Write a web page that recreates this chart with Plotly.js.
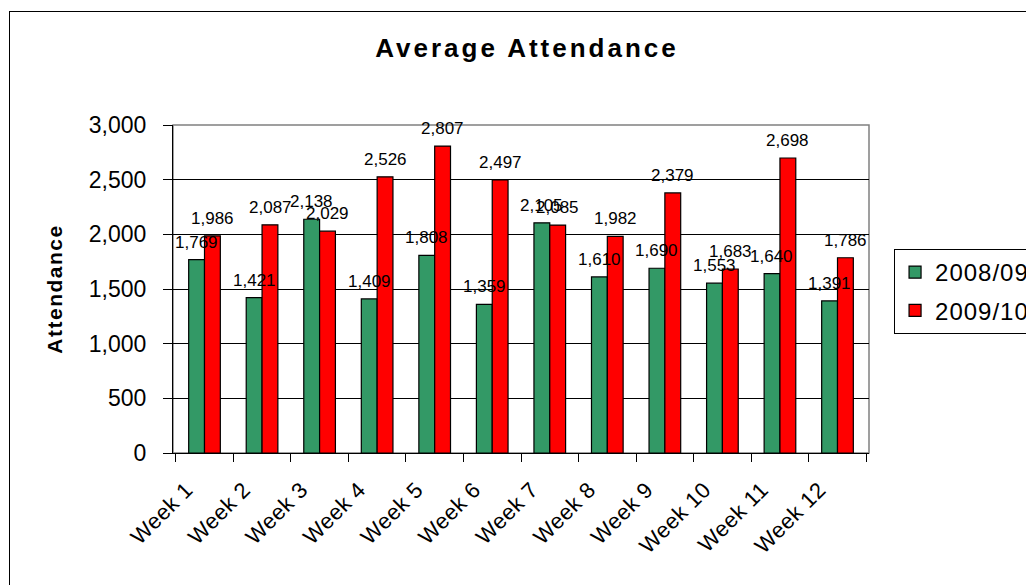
<!DOCTYPE html>
<html>
<head>
<meta charset="utf-8">
<script src="https://cdn.plot.ly/plotly-3.0.1.min.js"></script>
<style>
  html, body { margin: 0; padding: 0; background: #fff; overflow: hidden; width: 1026px; height: 585px; }
  #wrap { position: absolute; left: 0; top: 0; width: 1120px; height: 620px; }
  #frame { position: absolute; left: 9px; top: 11px; width: 1300px; height: 900px; border: 1px solid #000; pointer-events: none; }
  .gtitle { letter-spacing: 3px; }
  .ytitle { letter-spacing: 1.5px; }
  .legendtext { letter-spacing: 1px; }
  .xtick text { letter-spacing: 0.5px; }
</style>
</head>
<body>
<div id="wrap"></div>
<div id="frame"></div>
<script>
const weeks = ["Week 1","Week 2","Week 3","Week 4","Week 5","Week 6","Week 7","Week 8","Week 9","Week 10","Week 11","Week 12"];
const season0809 = [1769,1421,2138,1409,1808,1359,2105,1610,1690,1553,1640,1391];
const season0910 = [1986,2087,2029,2526,2807,2497,2085,1982,2379,1683,2698,1786];
const seriesNames = ["2008/09","2009/10"];
const yTicks = [0,500,1000,1500,2000,2500,3000];

const FONT = '"Liberation Sans", Arial, sans-serif';
const fmt = v => v.toLocaleString('en-US');

const traces = [
  {type:'bar', name:seriesNames[0], x:weeks, y:season0809, legendgroup:'a',
   marker:{color:'#339966', line:{color:'#000', width:1.2}}, hoverinfo:'skip'},
  {type:'bar', name:seriesNames[1], x:weeks, y:season0910, legendgroup:'b',
   marker:{color:'#FF0000', line:{color:'#000', width:1.2}}, hoverinfo:'skip'}
];

const annotations = [];
[season0809, season0910].forEach((vals, s) => {
  vals.forEach((v, i) => {
    annotations.push({x:weeks[i], y:v, xref:'x', yref:'y', text:fmt(v), showarrow:false,
      xshift: s === 0 ? -8 : 8, yshift: 6, yanchor:'bottom', xanchor:'center',
      font:{family:FONT, size:17, color:'#000'}});
  });
});

const layout = {
  width:1120, height:620,
  margin:{l:173, r:251, t:125, b:167},
  paper_bgcolor:'#fff', plot_bgcolor:'#fff',
  font:{family:FONT, color:'#000'},
  title:{text:'<b>Average Attendance</b>', font:{family:FONT, size:26, color:'#000'},
         xref:'paper', x:0.5086, xanchor:'center', yref:'container', y:1-48/620, yanchor:'middle'},
  barmode:'group', bargap:0.45, bargroupgap:0,
  showlegend:true,
  legend:{x:1.036, y:0.622, xanchor:'left', yanchor:'top', bordercolor:'#000', borderwidth:1,
          font:{family:FONT, size:24, color:'#000'}, traceorder:'grouped', tracegroupgap:4,
          bgcolor:'#fff'},
  xaxis:{type:'category', tickson:'boundaries', ticks:'outside', ticklen:8, tickcolor:'#000', tickwidth:1,
         showline:true, linecolor:'#000', linewidth:1, showgrid:false, tickangle:-45,
         ticklabelshift:-18, ticklabelstandoff:14,
         tickfont:{family:FONT, size:22, color:'#000'}, automargin:false, fixedrange:true},
  yaxis:{range:[0,3000], tickvals:yTicks, ticktext:yTicks.map(fmt), ticks:'outside', ticklen:9,
         tickcolor:'#000', tickwidth:1, showline:true, linecolor:'#000', linewidth:1,
         showgrid:true, gridcolor:'#000', gridwidth:1, zeroline:false,
         tickfont:{family:FONT, size:23, color:'#000'}, ticklabelstandoff:12,
         title:{text:'<b>Attendance</b>', font:{family:FONT, size:21, color:'#000'}, standoff:20},
         automargin:false, fixedrange:true},
  shapes:[{type:'rect', xref:'paper', yref:'paper', x0:0, x1:1, y0:0, y1:1,
           line:{color:'#808080', width:1.5}, layer:'below'}],
  annotations:annotations
};

Plotly.newPlot('wrap', traces, layout, {displayModeBar:false, staticPlot:true});
</script>
</body>
</html>
